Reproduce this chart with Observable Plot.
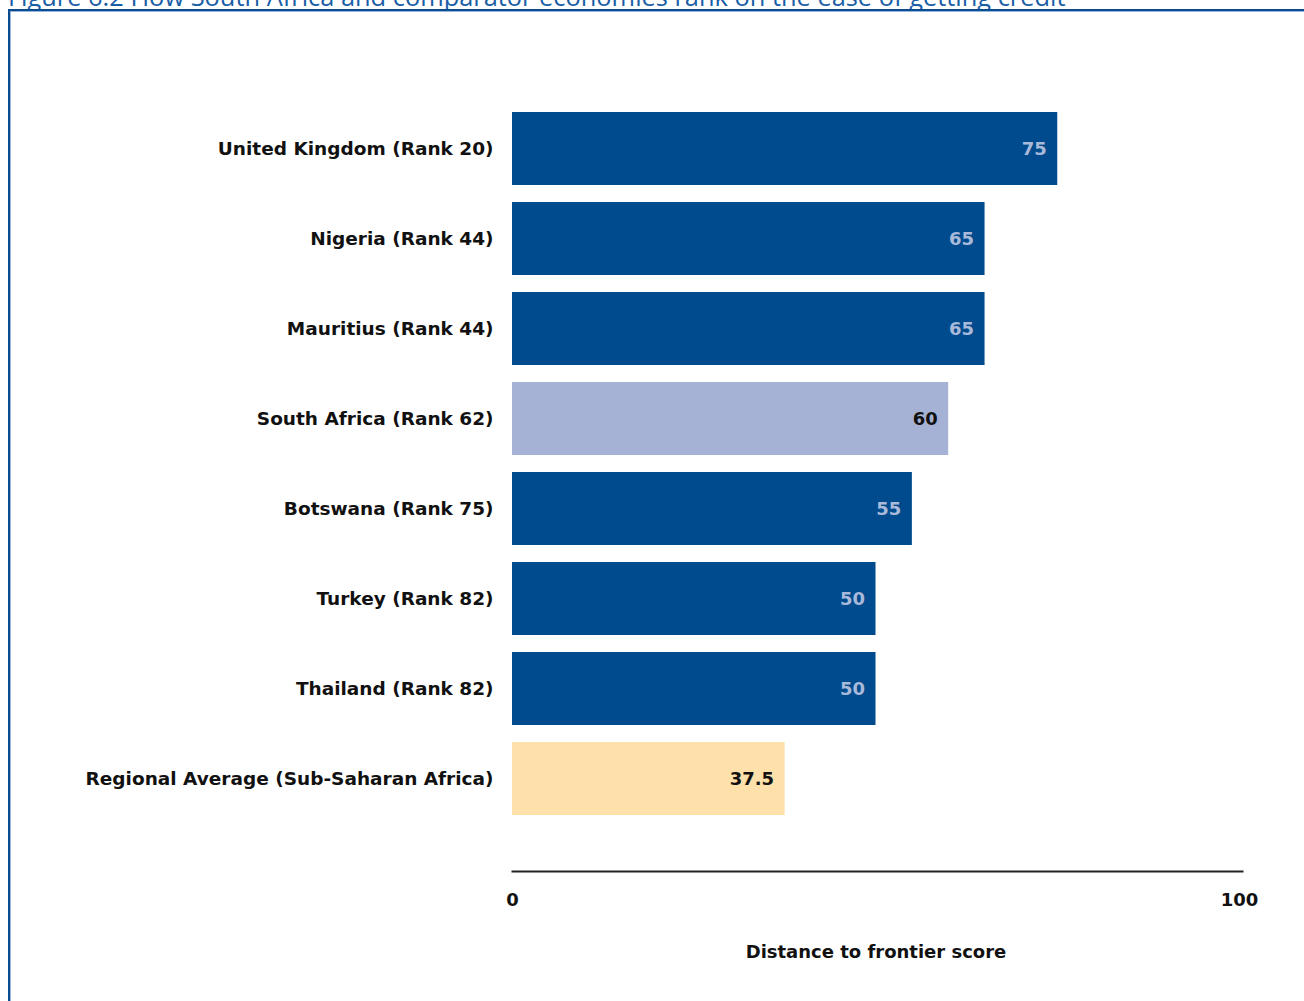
<!DOCTYPE html>
<html>
<head>
<meta charset="utf-8">
<script src="https://cdn.jsdelivr.net/npm/d3@7"></script>
<script src="https://cdn.jsdelivr.net/npm/@observablehq/plot@0.6"></script>
<style>
  html, body { margin: 0; padding: 0; background: #fff; overflow: hidden; }
  #wrap { position: relative; width: 1304px; height: 1001px; overflow: hidden; }
  #title { position: absolute; left: 8px; top: -21px; font-family: "Open Sans", sans-serif; font-size: 25.4px; color: #1a5ea6; white-space: nowrap; }
  #box { position: absolute; left: 8px; top: 9px; width: 1320px; height: 1020px; border-left: 2px solid #0a4c92; border-top: 2px solid #0a4c92; box-shadow: inset 1px 1px 0 #9bb6da; }
  #chart { position: absolute; left: 0; top: 0; }
</style>
</head>
<body>
<div id="wrap">
  <div id="title">Figure 6.2 How South Africa and comparator economies rank on the ease of getting credit</div>
  <div id="box"></div>
  <div id="chart"></div>
</div>
<script>
const economies = [
  "United Kingdom (Rank 20)",
  "Nigeria (Rank 44)",
  "Mauritius (Rank 44)",
  "South Africa (Rank 62)",
  "Botswana (Rank 75)",
  "Turkey (Rank 82)",
  "Thailand (Rank 82)",
  "Regional Average (Sub-Saharan Africa)"
];
const scores = [75, 65, 65, 60, 55, 50, 50, 37.5];
const groups = ["comparator", "comparator", "comparator", "focus", "comparator", "comparator", "comparator", "regional"];
const xTicks = [0, 100];

const data = economies.map((name, i) => ({name, score: scores[i], group: groups[i]}));

const fillFor = {comparator: "#004b8d", focus: "#a6b2d5", regional: "#fee0aa"};
const textFor = {comparator: "#a9b9da", focus: "#111111", regional: "#111111"};

const font = "'DejaVu Sans', Verdana, sans-serif";

const chart = Plot.plot({
  width: 1304,
  height: 1001,
  marginLeft: 512,
  marginRight: 65,
  marginTop: 103,
  marginBottom: 130,
  style: {fontFamily: font, background: "transparent"},
  x: {domain: [0, 100]},
  y: {domain: economies, range: [103, 824], paddingInner: 0.19, paddingOuter: 0.1, align: 0.5},
  marks: [
    Plot.barX(data, {x: "score", y: "name", fill: d => fillFor[d.group]}),
    Plot.text(data, {
      x: "score", y: "name", text: d => String(d.score),
      textAnchor: "end", dx: -11,
      fill: d => textFor[d.group],
      fontSize: 18, fontWeight: "bold"
    }),
    Plot.axisY({tickSize: 0, tickPadding: 19, fontSize: 18.5, fontWeight: "bold", label: null, fill: "#111"}),
    Plot.axisX({ticks: xTicks, tickSize: 0, tickPadding: 22, fontSize: 18, fontWeight: "bold",
      label: "Distance to frontier score", labelAnchor: "center", labelArrow: "none", labelOffset: 86, fill: "#111"}),
    Plot.frame({anchor: "bottom", stroke: "#222", strokeWidth: 2, insetRight: -3})
  ]
});
document.getElementById("chart").appendChild(chart);
</script>
</body>
</html>
